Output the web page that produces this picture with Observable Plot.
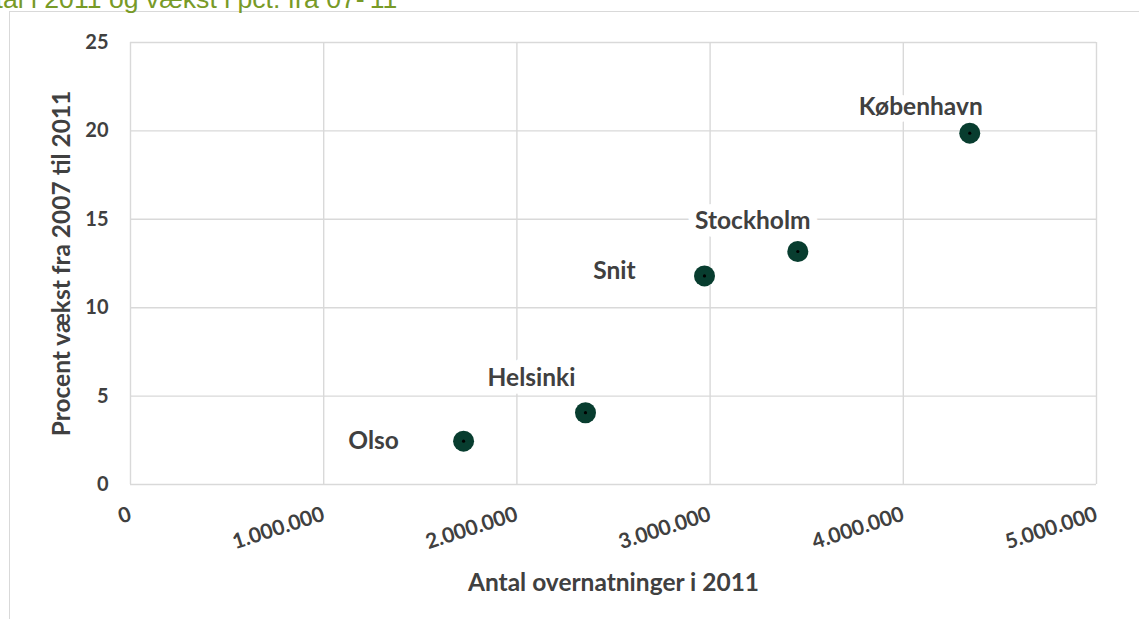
<!DOCTYPE html>
<html>
<head>
<meta charset="utf-8">
<script src="https://cdn.jsdelivr.net/npm/d3@7"></script>
<script src="https://cdn.jsdelivr.net/npm/@observablehq/plot@0.6"></script>
<style>
  html, body { margin: 0; padding: 0; background: #fff; overflow: hidden; }
  #wrap { position: relative; width: 1139px; height: 619px; overflow: hidden; }
  #frame { position: absolute; left: 9px; top: 11px; width: 1140px; height: 620px; border: 1.5px solid #d9d9d9; box-sizing: border-box; }
  #title { position: absolute; left: -37px; top: -16px; font-family: "Liberation Sans", Arial, sans-serif; font-size: 26.6px; line-height: 1.15; color: #789a27; white-space: nowrap; }
  #chart { position: absolute; left: 0; top: 0; }
  #chart g[aria-label="x-axis label"] text,
  #chart g[aria-label="y-axis label"] text { font-size: 24.5px; font-weight: bold; }
</style>
</head>
<body>
<div id="wrap">
  <div id="frame"></div>
  <div id="title">Antal i 2011 og vækst i pct. fra 07-'11</div>
  <div id="chart"></div>
</div>
<script>
const cities = ["Olso", "Helsinki", "Snit", "Stockholm", "København"];
const overnatninger = [1724000, 2355000, 2971000, 3454000, 4344000];
const vaekst = [2.45, 4.06, 11.8, 13.18, 19.87];
const xTicks = [0, 1000000, 2000000, 3000000, 4000000, 5000000];
const yTicks = [0, 5, 10, 15, 20, 25];

const data = cities.map((c, i) => ({city: c, x: overnatninger[i], y: vaekst[i]}));

// label placement (style), keyed by city
const labelOffset = {
  "Olso": [-90, 0],
  "Helsinki": [-54, -35],
  "Snit": [-90, -5],
  "Stockholm": [-45, -30],
  "København": [-49, -26]
};

const da = d3.formatLocale({decimal: ",", thousands: ".", grouping: [3], currency: ["", " kr."]});
const fmt = da.format(",");

const FONT = "Lato, 'Open Sans', sans-serif";
const INK = "#404040";
const GRID = "#d9d9d9";

const labelMarks = cities.map(c => Plot.text(data.filter(d => d.city === c), {
  x: "x", y: "y", text: "city",
  dx: labelOffset[c][0], dy: labelOffset[c][1],
  fontSize: 24.5, fontWeight: "bold", fill: INK,
  stroke: "white", strokeWidth: 16, strokeLinejoin: "round"
}));

const chart = Plot.plot({
  width: 1139,
  height: 619,
  marginLeft: 130,
  marginRight: 43,
  marginTop: 42,
  marginBottom: 135,
  style: {fontFamily: FONT, color: INK, background: "transparent", overflow: "visible"},
  x: {domain: [0, 5000000]},
  y: {domain: [0, 25]},
  marks: [
    Plot.gridY(yTicks, {stroke: GRID, strokeOpacity: 1, strokeWidth: 1.4}),
    Plot.gridX(xTicks, {stroke: GRID, strokeOpacity: 1, strokeWidth: 1.4}),
    Plot.axisY({
      ticks: yTicks, tickSize: 0, tickPadding: 22,
      fontSize: 20, fontWeight: "bold", fill: INK,
      label: "Procent vækst fra 2007 til 2011", labelAnchor: "center", labelArrow: "none", labelOffset: 78
    }),
    Plot.axisX({
      ticks: xTicks, tickSize: 0, tickPadding: 29, tickRotate: -18,
      tickFormat: fmt,
      fontSize: 21, fontWeight: "bold", fill: INK,
      label: "Antal overnatninger i 2011", labelAnchor: "center", labelArrow: "none", labelOffset: 106
    }),
    ...labelMarks,
    Plot.dot(data, {x: "x", y: "y", r: 10.5, fill: "#083d2f", stroke: null}),
    Plot.dot(data, {x: "x", y: "y", r: 1.6, fill: "#000"})
  ]
});
document.getElementById("chart").appendChild(chart);
</script>
</body>
</html>
